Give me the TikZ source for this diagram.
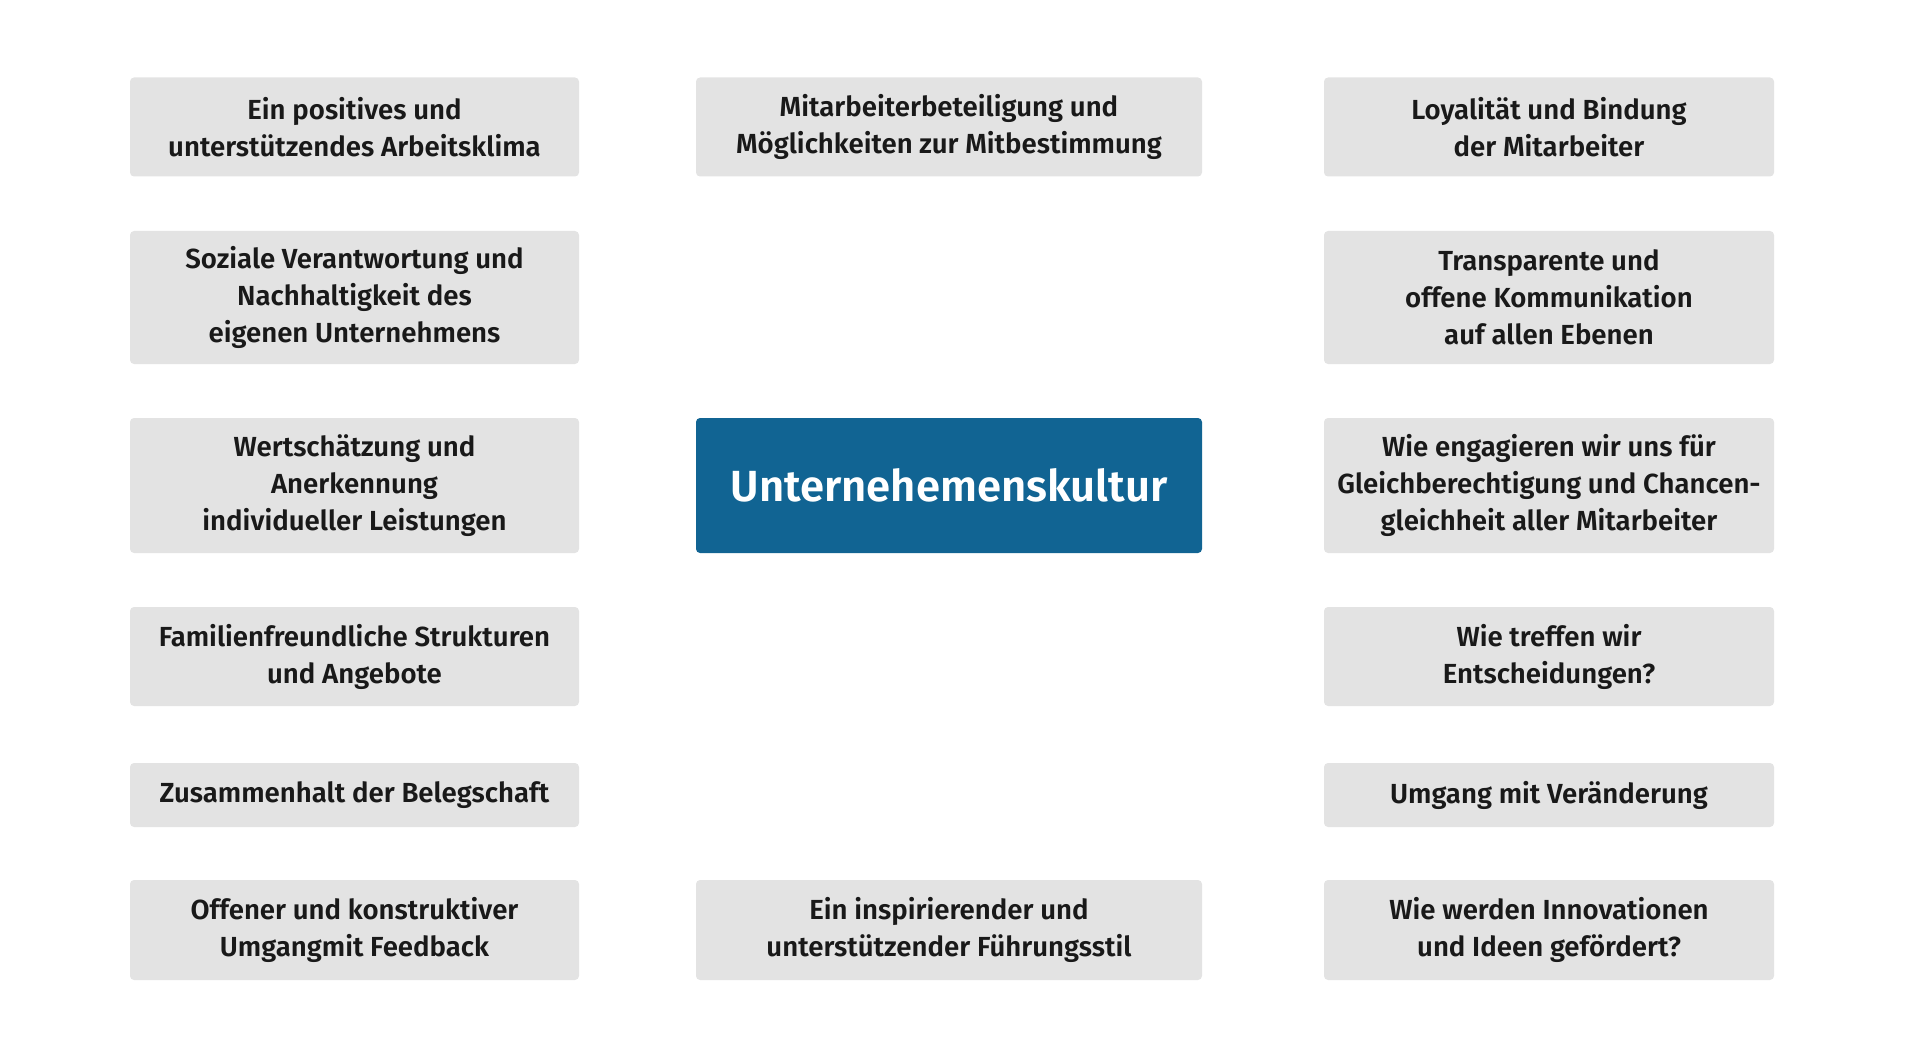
\documentclass[tikz,border=0pt]{standalone}
\usepackage{fontspec}
\IfFontExistsTF{Fira Sans SemiBold}{\setmainfont{Fira Sans SemiBold}}{\setmainfont{Fira Sans}[UprightFont=* Bold]}
\usepackage{tikz}
\usetikzlibrary{positioning}
\definecolor{tilegray}{HTML}{E3E3E3}
\definecolor{kulturblue}{HTML}{116493}
\tikzset{tile/.style={fill=tilegray, rounded corners=4pt, align=center, inner sep=0pt, text=black!90, font=\fontsize{27.6}{37}\selectfont}}

\begin{document}
\begin{tikzpicture}[x=1pt, y=-1pt]

			\useasboundingbox (0,0) rectangle (1920,1059);

			% linke Spalte
			\node[tile, minimum width=449pt, minimum height=99pt] (L1) at (354.5,127) {Ein positives und\\unterstützendes Arbeitsklima};
			\node[tile, minimum width=449pt, minimum height=133pt] (L2) at (354.5,297.5) {Soziale Verantwortung und\\Nachhaltigkeit des\\eigenen Unternehmens};
			\node[tile, minimum width=449pt, minimum height=135pt] (L3) at (354.5,485.5) {Wertschätzung und\\Anerkennung\\individueller Leistungen};
			\node[tile, minimum width=449pt, minimum height=99pt] (L4) at (354.5,656.5) {Familienfreundliche Strukturen\\und Angebote};
			\node[tile, minimum width=449pt, minimum height=64pt] (L5) at (354.5,795) {Zusammenhalt der Belegschaft};
			\node[tile, minimum width=449pt, minimum height=100pt] (L6) at (354.5,930) {Offener und konstruktiver\\Umgangmit Feedback};

			% Mitte
			\node[tile, minimum width=506pt, minimum height=99pt] (M1) at (949,127) {Mitarbeiterbeteiligung und\\Möglichkeiten zur Mitbestimmung};
			\node[tile, fill=kulturblue, text=white, minimum width=506pt, minimum height=135pt, font=\fontsize{43.6}{50}\selectfont] (K) at (949,485.5) {Unternehemenskultur};
			\node[tile, minimum width=506pt, minimum height=100pt] (M2) at (949,930) {Ein inspirierender und\\unterstützender Führungsstil};

			% rechte Spalte
			\node[tile, minimum width=450pt, minimum height=99pt] (R1) at (1549,127) {Loyalität und Bindung\\der Mitarbeiter};
			\node[tile, minimum width=450pt, minimum height=133pt] (R2) at (1549,297.5) {Transparente und\\offene Kommunikation\\auf allen Ebenen};
			\node[tile, minimum width=450pt, minimum height=135pt] (R3) at (1549,485.5) {Wie engagieren wir uns für\\Gleichberechtigung und Chancen-\\gleichheit aller Mitarbeiter};
			\node[tile, minimum width=450pt, minimum height=99pt] (R4) at (1549,656.5) {Wie treffen wir\\Entscheidungen?};
			\node[tile, minimum width=450pt, minimum height=64pt] (R5) at (1549,795) {Umgang mit Veränderung};
			\node[tile, minimum width=450pt, minimum height=100pt] (R6) at (1549,930) {Wie werden Innovationen\\und Ideen gefördert?};

\end{tikzpicture}
\end{document}
